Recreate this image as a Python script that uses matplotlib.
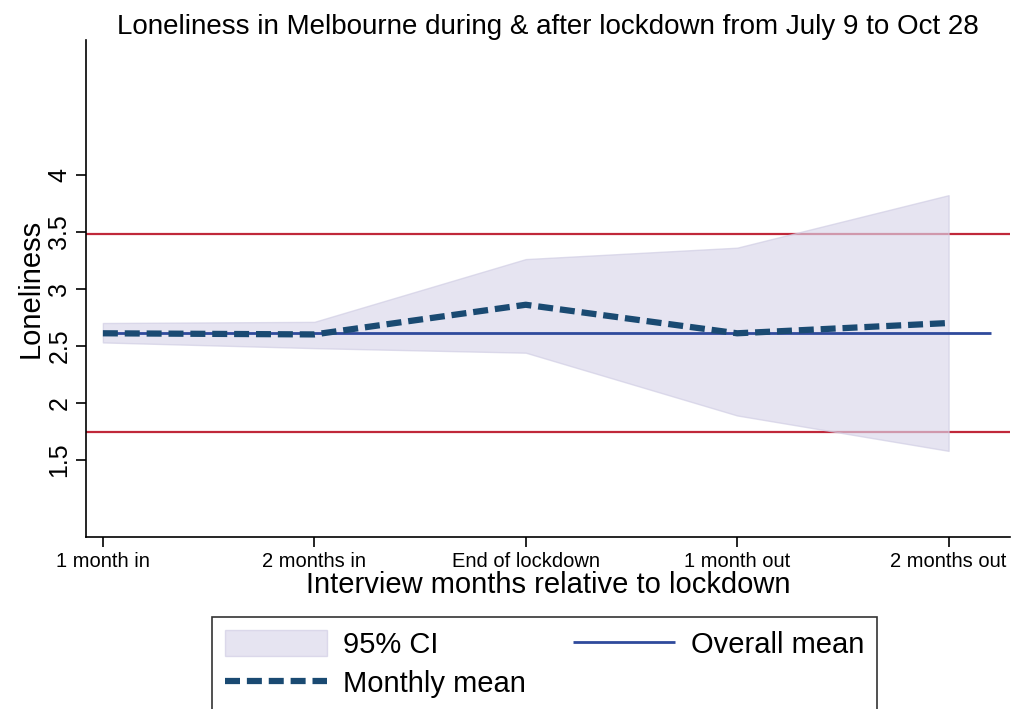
import matplotlib.pyplot as plt

plt.rcParams['font.family'] = ['Liberation Sans', 'DejaVu Sans']

# Data
months = ['1 month in', '2 months in', 'End of lockdown', '1 month out', '2 months out']
monthly_mean = [2.61, 2.60, 2.86, 2.61, 2.70]
ci_upper = [2.70, 2.71, 3.26, 3.36, 3.82]
ci_lower = [2.53, 2.48, 2.44, 1.89, 1.58]
overall_mean = 2.615
upper_limit = 3.48
lower_limit = 1.745
yticks = [1.5, 2, 2.5, 3, 3.5, 4]

x = list(range(len(months)))

fig = plt.figure(figsize=(10.16, 7.09), dpi=100)
ax = fig.add_axes([0.0846, 0.2426, 0.9094, 0.701])

ax.axhline(upper_limit, color='#c0283a', lw=1.6, zorder=1)
ax.axhline(lower_limit, color='#c0283a', lw=1.6, zorder=1)
ci = ax.fill_between(x, ci_lower, ci_upper, facecolor='#d9d6ea', edgecolor='#cfcce3',
                     alpha=0.65, lw=1, zorder=2, label='95% CI')
mm, = ax.plot(x, monthly_mean, color='#1a4a72', lw=4.5, dashes=(2.4, 1.1),
              zorder=4, label='Monthly mean')
om = ax.hlines(overall_mean, 0, 4.2, color='#2f4a9c', lw=2, zorder=3, label='Overall mean')

ax.set_xlim(-0.08, 4.29)
ax.set_ylim(0.825, 5.18)
ax.set_xticks(x)
ax.set_xticklabels(months, fontsize=14.5)
ax.set_yticks(yticks)
ax.set_yticklabels(['1.5', '2', '2.5', '3', '3.5', '4'], rotation=90, va='center', fontsize=18)
ax.tick_params(axis='both', length=7, width=1.2, color='black')
ax.tick_params(axis='x', pad=4)
ax.spines['top'].set_visible(False)
ax.spines['right'].set_visible(False)
ax.spines['left'].set_linewidth(1.2)
ax.spines['bottom'].set_linewidth(1.2)

ax.set_xlabel('Interview months relative to lockdown', fontsize=21, labelpad=0)
ax.set_ylabel('Loneliness', fontsize=21, labelpad=2)
ax.set_title('Loneliness in Melbourne during & after lockdown from July 9 to Oct 28',
             fontsize=20, pad=3)

leg = fig.legend(handles=[ci, mm, om], loc='upper left', bbox_to_anchor=(0.2087, 0.1298),
                 ncol=2, fontsize=21, frameon=True, fancybox=False, edgecolor='black',
                 handlelength=3.5, handleheight=1.0, handletextpad=0.55, columnspacing=1.6,
                 borderpad=0.45, labelspacing=0.35, borderaxespad=0)
leg.get_frame().set_linewidth(1.2)

fig.savefig('out.png', dpi=100)
